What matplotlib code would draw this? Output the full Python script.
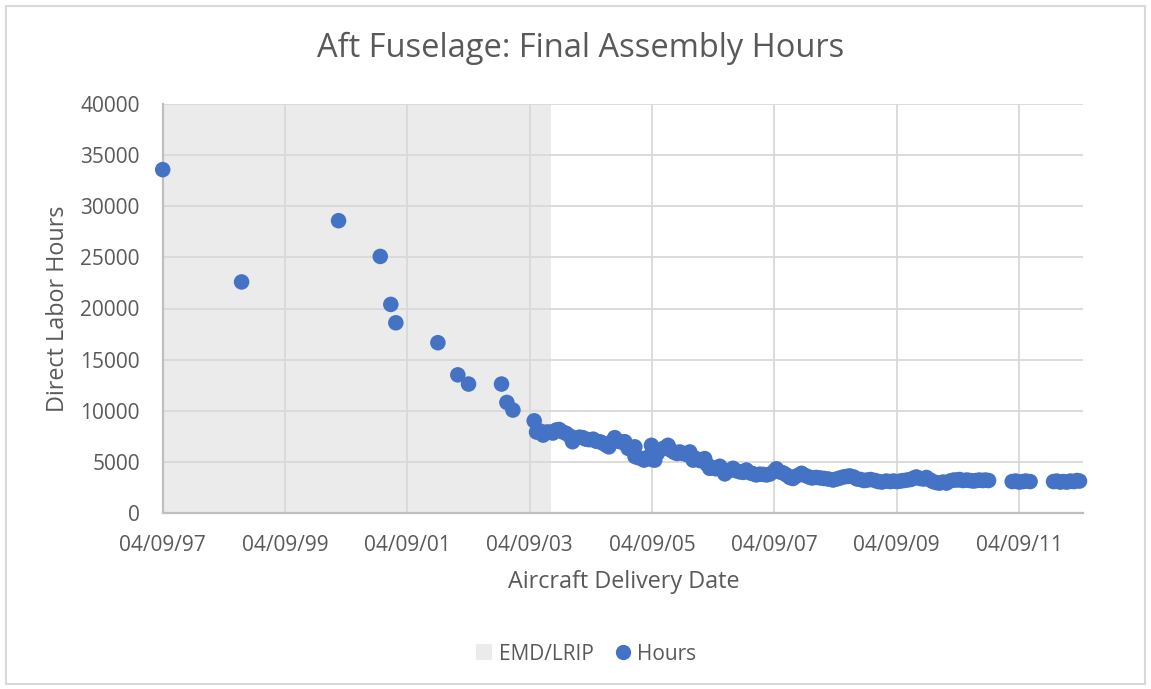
import matplotlib
matplotlib.use("Agg")
import matplotlib.pyplot as plt
import matplotlib.dates as mdates
from matplotlib.patches import Rectangle, Patch
from matplotlib.lines import Line2D
import pandas as pd

# ---------------- data ----------------
delivery_dates = [
    "1997-04-09", "1998-07-24", "2000-02-23", "2000-10-29", "2000-12-31", "2001-01-30",
    "2001-10-08", "2002-02-04", "2002-04-09", "2002-10-23", "2002-11-24", "2002-12-30",
    "2003-05-06",
    "2003-05-20", "2003-06-10", "2003-06-28", "2003-07-20", "2003-08-07", "2003-08-25",
    "2003-09-15", "2003-10-02", "2003-10-25", "2003-11-15", "2003-12-05", "2003-12-21",
    "2004-01-10", "2004-02-01", "2004-02-20", "2004-03-10", "2004-03-30", "2004-04-22",
    "2004-05-10", "2004-06-01", "2004-06-20", "2004-07-10", "2004-07-25", "2004-08-15",
    "2004-08-29", "2004-09-20", "2004-10-10", "2004-10-28", "2004-11-17", "2004-12-05",
    "2004-12-27", "2004-12-28",
    "2005-01-15", "2005-02-05", "2005-02-20", "2005-03-10", "2005-04-05", "2005-04-10",
    "2005-04-25", "2005-05-10", "2005-05-25", "2005-06-15", "2005-07-13", "2005-08-01",
    "2005-08-20", "2005-09-05", "2005-09-21", "2005-10-10", "2005-11-01", "2005-11-20",
    "2005-12-10", "2005-12-28",
    "2006-01-20", "2006-02-17", "2006-03-05", "2006-03-19", "2006-04-05", "2006-04-25",
    "2006-05-18", "2006-06-05", "2006-06-17", "2006-07-10", "2006-08-05", "2006-08-25",
    "2006-09-15", "2006-10-05", "2006-10-24", "2006-11-15", "2006-12-05", "2006-12-23",
    "2007-01-12", "2007-02-01", "2007-02-21", "2007-03-15", "2007-04-11", "2007-04-21",
    "2007-05-10", "2007-05-31", "2007-06-20", "2007-07-10", "2007-07-29", "2007-08-20",
    "2007-09-18", "2007-10-10", "2007-11-01", "2007-11-20", "2007-12-16",
    "2008-01-10", "2008-02-01", "2008-02-25", "2008-03-24", "2008-04-15", "2008-05-05",
    "2008-05-25", "2008-06-15", "2008-07-02", "2008-07-25", "2008-08-15", "2008-09-05",
    "2008-09-25", "2008-10-15", "2008-11-05", "2008-12-01", "2008-12-20",
    "2009-01-10", "2009-02-06", "2009-03-01", "2009-03-20", "2009-04-10", "2009-05-01",
    "2009-05-20", "2009-06-10", "2009-07-01", "2009-07-20", "2009-08-04", "2009-08-25",
    "2009-09-15", "2009-10-03", "2009-10-25", "2009-11-11", "2009-12-01", "2009-12-20",
    "2010-01-10", "2010-01-30", "2010-02-20", "2010-03-15", "2010-04-05", "2010-04-19",
    "2010-05-10", "2010-06-01", "2010-06-20", "2010-07-10", "2010-07-28", "2010-08-15",
    "2010-09-05", "2010-09-20", "2010-10-09",
    "2011-02-27", "2011-03-20", "2011-04-10", "2011-05-01", "2011-05-20", "2011-06-14",
    "2011-11-01", "2011-11-20", "2011-12-10", "2011-12-30", "2012-01-20", "2012-02-10",
    "2012-03-01", "2012-03-20", "2012-04-04",
]
labor_hours = [
    33600, 22600, 28600, 25100, 20400, 18600,
    16650, 13500, 12600, 12600, 10800, 10050,
    9000,
    7900, 8000, 7600, 7900, 7900, 7800,
    8100, 8150, 7900, 7750, 7500, 6950,
    7300, 7400, 7350, 7200, 7150, 7200,
    7000, 6950, 6800, 6600, 6450, 7000,
    7350, 7000, 6900, 6950, 6300, 6200,
    6450, 5500,
    5400, 5300, 5150, 5400, 6600, 5200,
    5150, 5800, 6150, 6300, 6600, 6100,
    5900, 5800, 5950, 5800, 5700, 5950,
    5150, 5300,
    5100, 5300, 4700, 4350, 4400, 4300,
    4550, 4200, 3800, 4100, 4350, 4100,
    4000, 3950, 4180, 3900, 3800, 3700,
    3770, 3750, 3700, 3800, 4100, 4300,
    4000, 3900, 3700, 3450, 3350, 3600,
    3860, 3650, 3500, 3400, 3450,
    3400, 3350, 3300, 3200, 3300, 3400,
    3500, 3550, 3600, 3500, 3300, 3250,
    3150, 3200, 3250, 3150, 3050,
    3000, 3100, 3050, 3100, 3050, 3100,
    3150, 3200, 3250, 3400, 3500, 3350,
    3300, 3450, 3200, 3050, 2950, 2900,
    3000, 2900, 3100, 3200, 3200, 3250,
    3150, 3200, 3150, 3100, 3150, 3200,
    3150, 3200, 3150,
    3050, 3100, 3000, 3050, 3100, 3050,
    3050, 3100, 3000, 3050, 3000, 3100,
    3050, 3150, 3100,
]
emd_lrip_period = ["1997-04-09", "2003-08-16"]
x_axis_range = ["1997-04-09", "2012-04-23"]
x_tick_dates = ["1997-04-09", "1999-04-09", "2001-04-09", "2003-04-09",
                "2005-04-09", "2007-04-09", "2009-04-09", "2011-04-09"]
y_ticks = [0, 5000, 10000, 15000, 20000, 25000, 30000, 35000, 40000]

title = "Aft Fuselage: Final Assembly Hours"
x_label = "Aircraft Delivery Date"
y_label = "Direct Labor Hours"
legend_labels = ["EMD/LRIP", "Hours"]

# ---------------- style ----------------
FONT = ["Open Sans", "DejaVu Sans"]
plt.rcParams["font.family"] = FONT
TXT = "#595959"
GRID = "#D9D9D9"
AXIS = "#BFBFBF"
BLUE = "#4472C4"
SHADE = "#EBEBEB"

W, H = 1151, 689
fig = plt.figure(figsize=(W / 100, H / 100), dpi=100)
fig.patch.set_facecolor("white")

left, right, top, bottom = 162.7, 1082.7, 104.3, 512.7
ax = fig.add_axes([left / W, 1 - bottom / H, (right - left) / W, (bottom - top) / H])

dates = pd.to_datetime(delivery_dates)
x0, x1 = pd.to_datetime(x_axis_range)
e0, e1 = pd.to_datetime(emd_lrip_period)

ax.axvspan(e0, e1, color=SHADE, lw=0, zorder=0.2)
ax.scatter(dates, labor_hours, s=125, color=BLUE, edgecolors="none", zorder=3,
           clip_on=False)

ax.set_xlim(x0, x1)
ax.set_ylim(0, 40000)
ax.set_xticks(pd.to_datetime(x_tick_dates))
ax.xaxis.set_major_formatter(mdates.DateFormatter("%m/%d/%y"))
ax.set_yticks(y_ticks)
ax.set_yticklabels([str(v) for v in y_ticks])

ax.set_axisbelow(True)
ax.grid(True, color=GRID, lw=1.3, zorder=0.5)
for s in ["top", "right"]:
    ax.spines[s].set_visible(False)
for s in ["bottom", "left"]:
    ax.spines[s].set_color(AXIS)
    ax.spines[s].set_linewidth(1.6)
ax.tick_params(length=0, labelsize=15, colors=TXT)
ax.tick_params(axis="x", pad=16)
ax.tick_params(axis="y", pad=16.5)

fig.text(581 / W, 1 - 48 / H, title, ha="center", va="center", fontsize=23.5, color=TXT)
fig.text(624 / W, 1 - 582 / H, x_label, ha="center", va="center", fontsize=16.8, color=TXT)
fig.text(58 / W, 1 - 309 / H, y_label, ha="center", va="center", fontsize=16.8, color=TXT,
         rotation=90)

handles = [Patch(facecolor=SHADE, edgecolor="none"),
           Line2D([], [], marker="o", linestyle="none", markersize=11,
                  markerfacecolor=BLUE, markeredgecolor="none")]
fig.legend(handles, legend_labels, loc="center", bbox_to_anchor=(586 / W, 1 - 654 / H),
           ncol=2, frameon=False, fontsize=15, labelcolor=TXT, handlelength=0.8,
           handleheight=0.8, handletextpad=0.3, columnspacing=1.0)

fig.patches.append(Rectangle((5.5 / W, 1 - 684 / H), (1145 - 5.5) / W, (684 - 5.5) / H,
                             transform=fig.transFigure, fill=False,
                             edgecolor=GRID, lw=1.5))

fig.savefig("out.png", dpi=100)
